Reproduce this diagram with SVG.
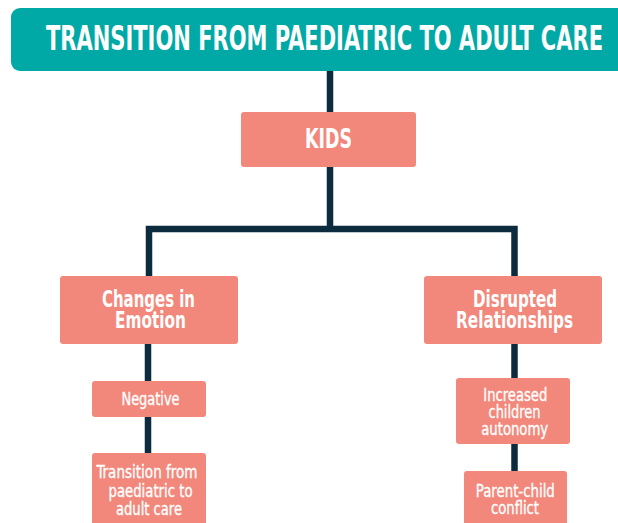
<svg xmlns="http://www.w3.org/2000/svg" width="618" height="523" viewBox="0 0 618 523">
<style>
.hdr{fill:#00A9A5}
.box{fill:#F2887B}
.conn{fill:none;stroke:#0D2B3E;stroke-width:6.5;stroke-linejoin:miter}
text{fill:#FFFFFF;font-family:"DejaVu Sans Condensed","DejaVu Sans",sans-serif;text-anchor:middle}
.t0{font-size:33px;font-weight:700}
.t1{font-size:26px;font-weight:700}
.t2{font-size:23px;font-weight:700}
.t3{font-size:18px;font-weight:400;stroke:#FFFFFF;stroke-width:0.35}
</style>
<rect width="618" height="523" fill="#FFFFFF"/>
<g id="connectors">
<path class="conn" d="M330,70 V113"/>
<path class="conn" d="M330,166 V229 M149,277 V229 H514.5 V277"/>
<path class="conn" d="M148,343 V382"/>
<path class="conn" d="M514.5,343 V379"/>
<path class="conn" d="M148,416 V454"/>
<path class="conn" d="M514.5,443 V472"/>
</g>
<g id="header">
<rect class="hdr" x="11" y="8" width="630" height="63" rx="9"/>
<text class="t0" x="324.5" y="49.5" textLength="557" lengthAdjust="spacingAndGlyphs">TRANSITION FROM PAEDIATRIC TO ADULT CARE</text>
</g>
<g id="kids">
<rect class="box" x="241" y="112" width="175" height="55" rx="3"/>
<text class="t1" x="328.5" y="148" textLength="47" lengthAdjust="spacingAndGlyphs">KIDS</text>
</g>
<g id="changes-in-emotion">
<rect class="box" x="60" y="276" width="178" height="68" rx="3"/>
<text class="t2" x="148.5" y="306.5" textLength="93" lengthAdjust="spacingAndGlyphs">Changes in</text>
<text class="t2" x="150.5" y="328" textLength="71" lengthAdjust="spacingAndGlyphs">Emotion</text>
</g>
<g id="disrupted-relationships">
<rect class="box" x="424" y="276" width="178" height="68" rx="3"/>
<text class="t2" x="515" y="306.5" textLength="84" lengthAdjust="spacingAndGlyphs">Disrupted</text>
<text class="t2" x="514.5" y="328" textLength="117" lengthAdjust="spacingAndGlyphs">Relationships</text>
</g>
<g id="negative">
<rect class="box" x="92" y="381" width="114" height="36" rx="3"/>
<text class="t3" x="150.5" y="405" textLength="58" lengthAdjust="spacingAndGlyphs">Negative</text>
</g>
<g id="transition">
<rect class="box" x="92" y="453" width="114" height="80" rx="3"/>
<text class="t3" x="147" y="478" textLength="101" lengthAdjust="spacingAndGlyphs">Transition from</text>
<text class="t3" x="150.5" y="497" textLength="84" lengthAdjust="spacingAndGlyphs">paediatric to</text>
<text class="t3" x="149" y="515" textLength="66" lengthAdjust="spacingAndGlyphs">adult care</text>
</g>
<g id="increased-autonomy">
<rect class="box" x="456" y="378" width="114" height="66" rx="3"/>
<text class="t3" x="515.3" y="400.5" textLength="64" lengthAdjust="spacingAndGlyphs">Increased</text>
<text class="t3" x="514.5" y="418" textLength="52" lengthAdjust="spacingAndGlyphs">children</text>
<text class="t3" x="514.7" y="434.5" textLength="67" lengthAdjust="spacingAndGlyphs">autonomy</text>
</g>
<g id="parent-child-conflict">
<rect class="box" x="464" y="471" width="103" height="62" rx="3"/>
<text class="t3" x="515.3" y="497" textLength="79" lengthAdjust="spacingAndGlyphs">Parent-child</text>
<text class="t3" x="515" y="514" textLength="48" lengthAdjust="spacingAndGlyphs">conflict</text>
</g>
</svg>
